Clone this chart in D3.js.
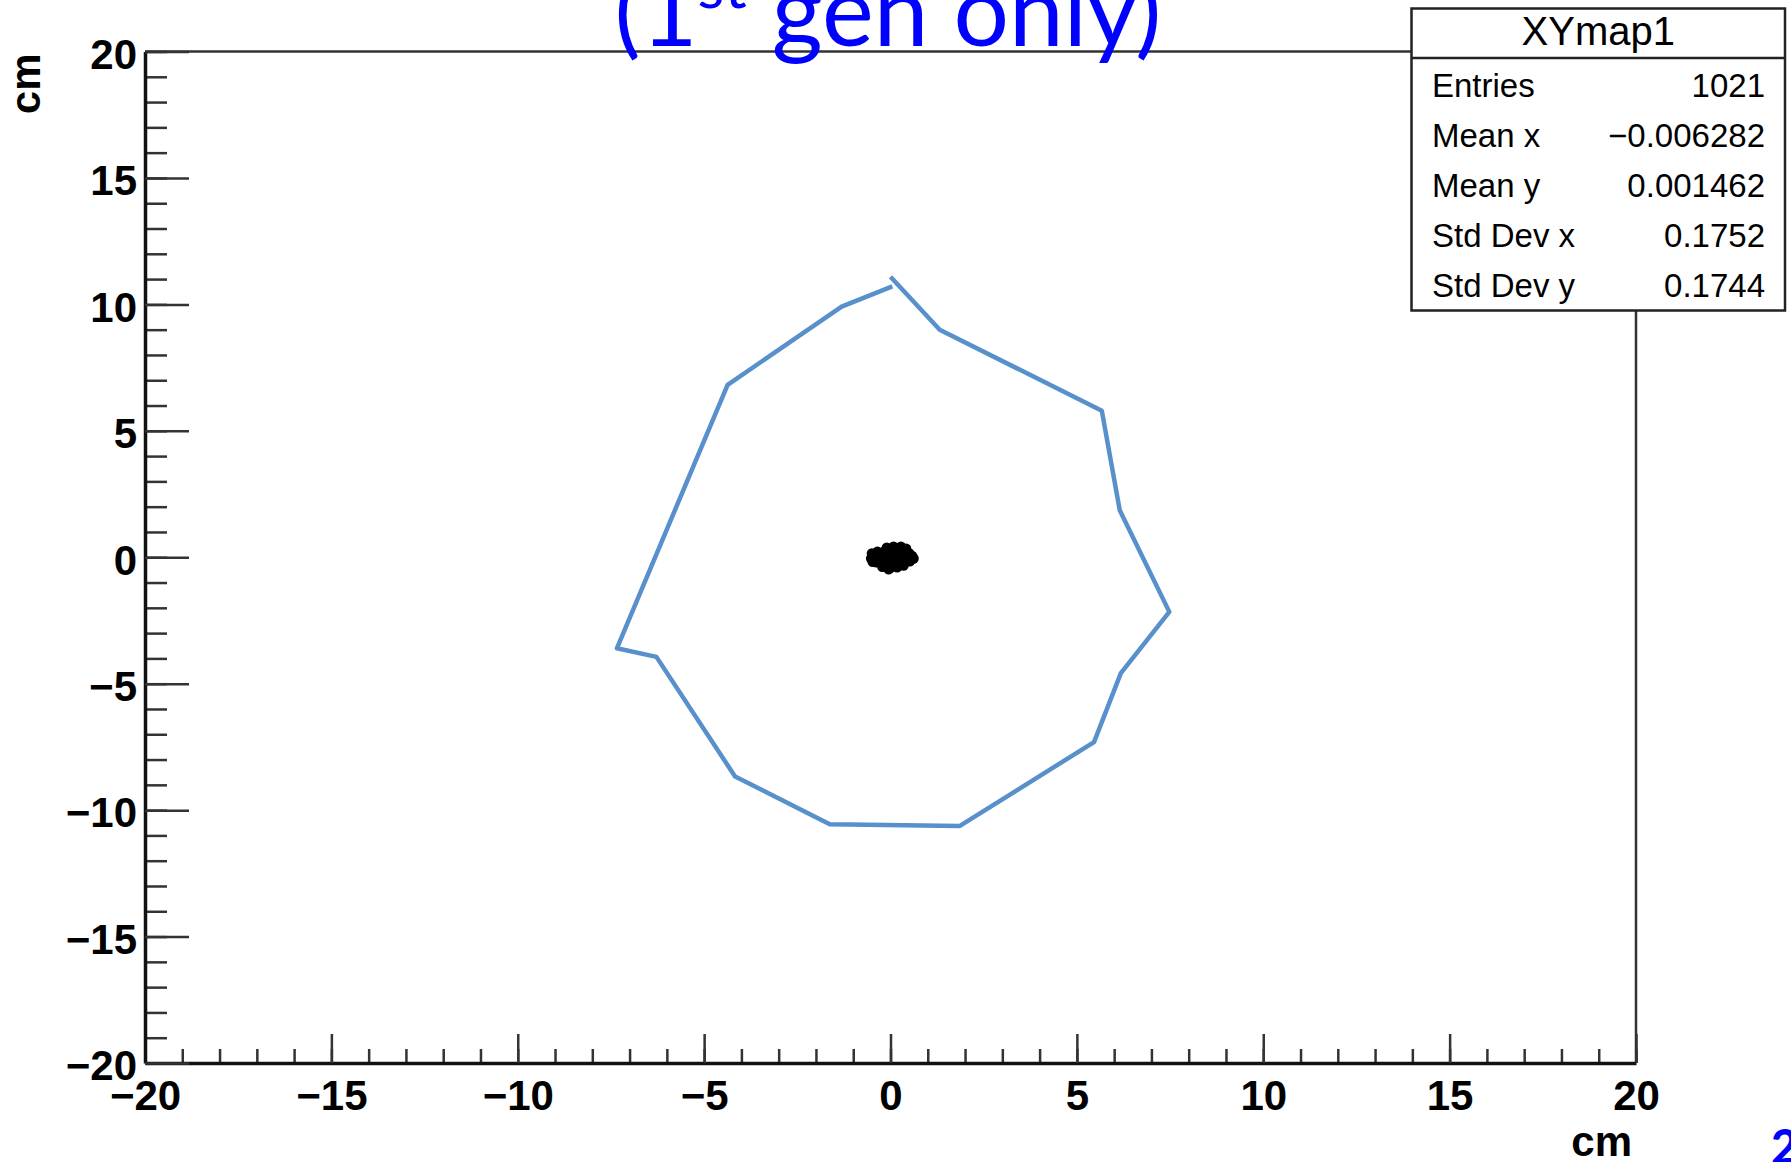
<!DOCTYPE html>
<html>
<head>
<meta charset="utf-8">
<script src="https://cdn.jsdelivr.net/npm/d3@7"></script>
<style>
  html, body { margin: 0; padding: 0; background: #fff; overflow: hidden; }
  svg { display: block; }
</style>
</head>
<body>
<svg id="chart"></svg>
<script>
// tick values (cm)
var majorTicks = [-20, -15, -10, -5, 0, 5, 10, 15, 20];
var minorTicks = d3.range(-20, 21, 1);

// hand drawn outline around the spot (cm)
var outlineX = [0.00, 1.32, 5.67, 6.15, 7.48, 6.18, 5.46, 1.85, -1.63, -4.17, -6.28, -7.34, -4.37, -1.31, 0.05];
var outlineY = [11.09, 9.00, 5.79, 1.86, -2.16, -4.58, -7.31, -10.63, -10.56, -8.67, -3.94, -3.60, 6.82, 9.91, 10.71];

// the spot of 1st gen hits (cm)
var spotX = [0.00, 0.20, -0.20, 0.40, -0.40, 0.58, -0.52, 0.62, 0.05, 0.25, -0.15, 0.42, -0.35, 0.02, 0.22, -0.18, 0.40, -0.38, 0.08, -0.10, 0.28, 0.42, 0.00, -0.22, 0.18, 0.35, -0.05, -0.50, -0.48, 0.50, 0.52, 0.10, -0.30, 0.30, -0.28, 0.12];
var spotY = [0.00, 0.02, -0.02, 0.00, 0.05, 0.05, -0.05, -0.05, 0.25, 0.22, 0.25, 0.20, 0.22, -0.25, -0.25, -0.22, -0.20, -0.20, 0.42, 0.38, 0.42, 0.34, -0.42, -0.38, -0.40, -0.33, -0.48, 0.15, -0.18, 0.16, -0.16, 0.12, 0.10, -0.10, -0.08, -0.12];

// stats box
var statTitle = "XYmap1";
var statLabels = ["Entries", "Mean x", "Mean y", "Std Dev x", "Std Dev y"];
var statValues = ["1021", "\u22120.006282", "0.001462", "0.1752", "0.1744"];

var svgWidth = 1791, svgHeight = 1162;
var margin = { top: 51.5, right: 155, bottom: 99, left: 145 };
var width = svgWidth - margin.left - margin.right;
var height = svgHeight - margin.top - margin.bottom;

var svg = d3.select("#chart")
    .attr("width", svgWidth)
    .attr("height", svgHeight);

svg.append("rect").attr("width", svgWidth).attr("height", svgHeight).attr("fill", "#fff");

var g = svg.append("g")
    .attr("transform", "translate(" + margin.left + "," + margin.top + ")");

var x = d3.scaleLinear().domain([-20, 20]).range([0, width]);
var y = d3.scaleLinear().domain([-20, 20]).range([height, 0]);

var labelFont = "'Liberation Sans', Arial, Helvetica, sans-serif";

// frame top + right
g.append("path")
    .attr("d", "M0,0H" + width + "V" + height)
    .attr("fill", "none")
    .attr("stroke", "#333")
    .attr("stroke-width", 2.5);

// minor ticks
g.append("g")
    .attr("transform", "translate(0," + height + ")")
    .call(d3.axisBottom(x).tickValues(minorTicks).tickSizeInner(-14).tickSizeOuter(0).tickFormat(""))
    .call(function(a) { a.select(".domain").remove(); a.selectAll("line").attr("stroke", "#333").attr("stroke-width", 2.5); });
g.append("g")
    .call(d3.axisLeft(y).tickValues(minorTicks).tickSizeInner(-22).tickSizeOuter(0).tickFormat(""))
    .call(function(a) { a.select(".domain").remove(); a.selectAll("line").attr("stroke", "#333").attr("stroke-width", 2.5); });

// major ticks + labels
var xAxis = g.append("g")
    .attr("transform", "translate(0," + height + ")")
    .call(d3.axisBottom(x).tickValues(majorTicks).tickSizeInner(-29).tickSizeOuter(0).tickPadding(17));
var yAxis = g.append("g")
    .call(d3.axisLeft(y).tickValues(majorTicks).tickSizeInner(-44).tickSizeOuter(0).tickPadding(8));

[xAxis, yAxis].forEach(function(a) {
    a.select(".domain").attr("stroke", "#111").attr("stroke-width", 3.5);
    a.selectAll("line").attr("stroke", "#333").attr("stroke-width", 2.5);
    a.selectAll("text")
        .attr("fill", "#000")
        .style("font-family", labelFont)
        .style("font-weight", "bold")
        .style("font-size", "42px");
});
yAxis.selectAll("text").attr("dy", "0.40em");

// axis titles
svg.append("text")
    .attr("x", margin.left + width - 4)
    .attr("y", 1156)
    .attr("text-anchor", "end")
    .style("font-family", labelFont)
    .style("font-weight", "bold")
    .style("font-size", "42px")
    .text("cm");

svg.append("text")
    .attr("transform", "translate(40," + (margin.top + 2) + ") rotate(-90)")
    .attr("text-anchor", "end")
    .style("font-family", labelFont)
    .style("font-weight", "bold")
    .style("font-size", "42px")
    .text("cm");

// spot
g.selectAll("circle.spot")
    .data(spotX)
    .enter().append("circle")
    .attr("class", "spot")
    .attr("cx", function(d) { return x(d); })
    .attr("cy", function(d, i) { return y(spotY[i]); })
    .attr("r", 5.2)
    .attr("fill", "#000");

// outline
var line = d3.line()
    .x(function(d) { return x(d); })
    .y(function(d, i) { return y(outlineY[i]); });

g.append("path")
    .datum(outlineX)
    .attr("fill", "none")
    .attr("stroke", "#5790cb")
    .attr("stroke-width", 4.5)
    .attr("stroke-linejoin", "round")
    .attr("d", line);

// stats box
var box = svg.append("g");
var bx = 1411.5, by = 8.5, bw = 373.5, bh = 302;
box.append("rect")
    .attr("x", bx).attr("y", by).attr("width", bw).attr("height", bh)
    .attr("fill", "#fff")
    .attr("stroke", "#222")
    .attr("stroke-width", 2.5);
box.append("line")
    .attr("x1", bx).attr("x2", bx + bw)
    .attr("y1", 58).attr("y2", 58)
    .attr("stroke", "#222")
    .attr("stroke-width", 2.5);
box.append("text")
    .attr("x", bx + bw / 2)
    .attr("y", 45)
    .attr("text-anchor", "middle")
    .style("font-family", labelFont)
    .style("font-size", "40px")
    .text(statTitle);
box.selectAll("text.lab")
    .data(statLabels)
    .enter().append("text")
    .attr("class", "lab")
    .attr("x", 1432)
    .attr("y", function(d, i) { return 97 + i * 50; })
    .style("font-family", labelFont)
    .style("font-size", "33px")
    .text(function(d) { return d; });
box.selectAll("text.val")
    .data(statValues)
    .enter().append("text")
    .attr("class", "val")
    .attr("x", 1765)
    .attr("y", function(d, i) { return 97 + i * 50; })
    .attr("text-anchor", "end")
    .style("font-family", labelFont)
    .style("font-size", "33px")
    .text(function(d) { return d; });

// slide title (cut off at the top)
var title = svg.append("text")
    .attr("x", 888)
    .attr("y", 46)
    .attr("text-anchor", "middle")
    .attr("fill", "#0000ff")
    .style("font-family", "Lato, 'Open Sans', sans-serif")
    .style("font-size", "98px");
title.append("tspan").text("(1");
title.append("tspan").attr("dy", -38).style("font-size", "62px").text("st");
title.append("tspan").attr("dy", 38).text(" gen only)");

// slide number
svg.append("text")
    .attr("x", 1771)
    .attr("y", 1164)
    .attr("fill", "#0000ff")
    .style("font-family", "Lato, sans-serif")
    .style("font-weight", "900")
    .style("font-size", "47px")
    .text("2");
</script>
</body>
</html>
